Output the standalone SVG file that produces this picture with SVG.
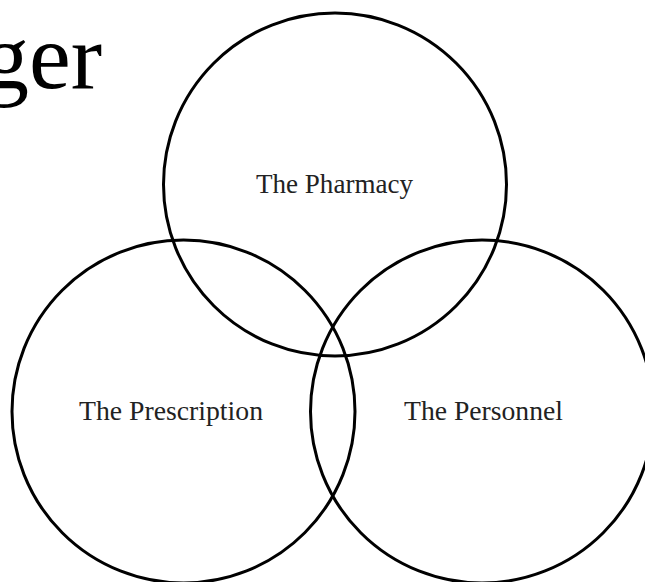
<svg xmlns="http://www.w3.org/2000/svg" width="645" height="582" viewBox="0 0 645 582">
  <style>
    .ring { fill: none; stroke: #000; stroke-width: 3; }
    .label { font-family: "Liberation Serif", "Times New Roman", serif; font-size: 27px; fill: #222; text-anchor: middle; }
    .title { font-family: "Liberation Serif", "Times New Roman", serif; font-size: 94px; fill: #000; text-anchor: end; }
  </style>
  <rect x="0" y="0" width="645" height="582" fill="#fff"/>
  <text class="title" x="102" y="88">ger</text>
  <g id="pharmacy">
    <circle class="ring" cx="335" cy="184.5" r="171.5"/>
    <text class="label" x="334.5" y="193" textLength="157" lengthAdjust="spacingAndGlyphs">The Pharmacy</text>
  </g>
  <g id="prescription">
    <circle class="ring" cx="183.5" cy="411.5" r="171.5"/>
    <text class="label" x="171" y="420" textLength="184" lengthAdjust="spacingAndGlyphs">The Prescription</text>
  </g>
  <g id="personnel">
    <circle class="ring" cx="482" cy="411.5" r="171.5"/>
    <text class="label" x="483.5" y="420" textLength="159" lengthAdjust="spacingAndGlyphs">The Personnel</text>
  </g>
</svg>
